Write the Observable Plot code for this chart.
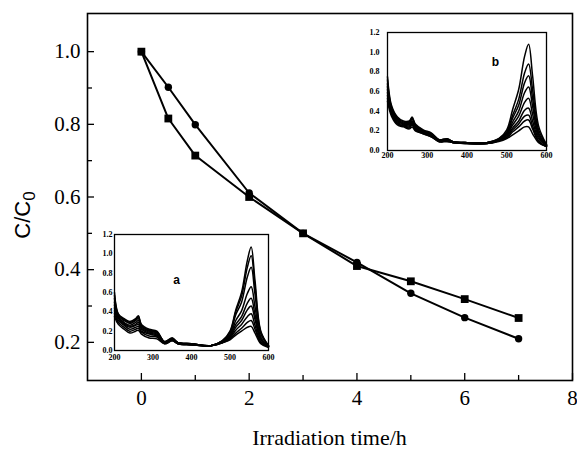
<!DOCTYPE html>
<html><head><meta charset="utf-8">
<script src="https://cdn.jsdelivr.net/npm/d3@7"></script>
<script src="https://cdn.jsdelivr.net/npm/@observablehq/plot@0.6"></script>
<style>
html,body{margin:0;padding:0;background:#fff;}
#wrap{position:relative;width:577px;height:449px;overflow:hidden;background:#fff;}
#wrap svg{position:absolute;}
</style></head><body><div id="wrap"></div>
<script>
// ---- main chart data ----
const time = [0, 0.5, 1, 2, 3, 4, 5, 6, 7];
const squareSeries = [1.0, 0.816, 0.714, 0.600, 0.500, 0.410, 0.368, 0.319, 0.267];
const circleSeries = [1.0, 0.902, 0.799, 0.611, 0.500, 0.420, 0.335, 0.268, 0.210];
const xTicks = [0, 2, 4, 6, 8];
const xMinorTicks = [1, 3, 5, 7];
const yTicks = [0.2, 0.4, 0.6, 0.8, 1.0];
const yMinorTicks = [0.3, 0.5, 0.7, 0.9];
const xLabel = "Irradiation time/h";
const yLabelMain = "C/C";
const yLabelSub = "0";

// ---- inset spectra data ----
const wavelength = [200, 210, 225, 240, 255, 262, 270, 290, 310, 330, 350, 365, 400, 450, 480, 500, 515, 530, 545, 555, 565, 580, 600];
const insetXTicks = [200, 300, 400, 500, 600];
const insetYTicks = [0, 0.2, 0.4, 0.6, 0.8, 1.0, 1.2];
const spectraA = [
  [0.60,0.38,0.33,0.30,0.33,0.36,0.27,0.22,0.20,0.09,0.13,0.08,0.07,0.05,0.10,0.20,0.42,0.60,0.93,1.07,0.72,0.20,0.05],
  [0.57,0.37,0.32,0.29,0.32,0.35,0.26,0.21,0.19,0.09,0.13,0.08,0.07,0.05,0.10,0.19,0.40,0.56,0.86,0.98,0.66,0.19,0.05],
  [0.54,0.36,0.31,0.28,0.31,0.33,0.25,0.21,0.19,0.09,0.12,0.08,0.07,0.05,0.10,0.18,0.37,0.50,0.76,0.86,0.58,0.17,0.05],
  [0.50,0.35,0.29,0.26,0.29,0.31,0.24,0.20,0.18,0.09,0.12,0.08,0.07,0.05,0.09,0.16,0.31,0.41,0.59,0.66,0.45,0.14,0.04],
  [0.47,0.34,0.28,0.25,0.27,0.29,0.23,0.19,0.17,0.08,0.12,0.08,0.06,0.05,0.09,0.15,0.27,0.35,0.49,0.54,0.37,0.12,0.04],
  [0.44,0.33,0.27,0.24,0.26,0.27,0.22,0.18,0.16,0.08,0.11,0.07,0.06,0.05,0.09,0.14,0.24,0.31,0.42,0.46,0.32,0.11,0.04],
  [0.41,0.31,0.26,0.22,0.24,0.25,0.20,0.17,0.15,0.08,0.11,0.07,0.06,0.05,0.08,0.13,0.21,0.27,0.35,0.38,0.26,0.09,0.04],
  [0.38,0.29,0.24,0.20,0.22,0.23,0.19,0.15,0.14,0.07,0.10,0.07,0.06,0.05,0.08,0.12,0.18,0.23,0.29,0.31,0.22,0.08,0.04],
  [0.35,0.27,0.22,0.18,0.20,0.21,0.17,0.13,0.12,0.07,0.10,0.07,0.06,0.05,0.08,0.11,0.16,0.20,0.24,0.25,0.18,0.07,0.03]
];
const spectraB = [
  [0.75,0.46,0.34,0.30,0.30,0.34,0.27,0.21,0.18,0.11,0.12,0.09,0.08,0.08,0.12,0.21,0.42,0.62,0.96,1.08,0.76,0.25,0.06],
  [0.72,0.44,0.33,0.29,0.29,0.33,0.26,0.20,0.17,0.11,0.12,0.09,0.08,0.08,0.12,0.19,0.36,0.52,0.79,0.88,0.62,0.21,0.06],
  [0.68,0.42,0.32,0.28,0.28,0.32,0.25,0.20,0.17,0.10,0.11,0.09,0.08,0.08,0.11,0.18,0.33,0.46,0.69,0.76,0.53,0.18,0.05],
  [0.65,0.41,0.31,0.27,0.27,0.30,0.24,0.19,0.16,0.10,0.11,0.09,0.08,0.08,0.11,0.17,0.29,0.40,0.59,0.645,0.45,0.16,0.05],
  [0.62,0.40,0.30,0.27,0.26,0.29,0.23,0.19,0.16,0.10,0.11,0.08,0.08,0.08,0.11,0.16,0.26,0.35,0.49,0.53,0.37,0.14,0.05],
  [0.59,0.39,0.29,0.26,0.25,0.28,0.22,0.18,0.15,0.10,0.10,0.08,0.08,0.07,0.10,0.15,0.23,0.30,0.41,0.43,0.30,0.12,0.05],
  [0.56,0.38,0.28,0.25,0.24,0.27,0.21,0.18,0.15,0.09,0.10,0.08,0.07,0.07,0.10,0.14,0.21,0.27,0.35,0.36,0.25,0.10,0.04],
  [0.53,0.37,0.27,0.25,0.23,0.26,0.21,0.17,0.14,0.09,0.10,0.08,0.07,0.07,0.10,0.13,0.19,0.24,0.30,0.31,0.22,0.09,0.04],
  [0.50,0.35,0.26,0.24,0.22,0.24,0.20,0.17,0.14,0.09,0.09,0.08,0.07,0.07,0.09,0.12,0.16,0.20,0.24,0.24,0.17,0.08,0.04]
];

const serif = "'Liberation Serif','Times New Roman',Times,serif";
const sans = "'Liberation Sans',Arial,Helvetica,sans-serif";
const wrap = document.getElementById("wrap");

// ---- main plot ----
const squares = time.map((t, i) => ({t, v: squareSeries[i]}));
const circles = time.map((t, i) => ({t, v: circleSeries[i]}));
const W = 577, H = 449, mL = 87, mR = 5, mT = 13, mB = 69;
const frameW = W - mL - mR, frameH = H - mT - mB;

const main = Plot.plot({
  width: W, height: H,
  marginLeft: mL, marginRight: mR, marginTop: mT, marginBottom: mB,
  x: {domain: [-1, 8]},
  y: {domain: [0.095, 1.105]},
  style: {fontFamily: serif, background: "transparent", color: "black", overflow: "visible"},
  marks: [
    Plot.frame({stroke: "black", strokeWidth: 1.6}),
    Plot.tickX(xTicks, {x: d => d, insetTop: frameH - 7, stroke: "black", strokeWidth: 1.3}),
    Plot.tickX(xMinorTicks, {x: d => d, insetTop: frameH - 5, stroke: "black", strokeWidth: 1.3}),
    Plot.tickY(yTicks, {y: d => d, insetRight: frameW - 7, stroke: "black", strokeWidth: 1.3}),
    Plot.tickY(yMinorTicks, {y: d => d, insetRight: frameW - 5, stroke: "black", strokeWidth: 1.3}),
    Plot.axisX({ticks: xTicks, tickSize: 0, tickPadding: 10, fontSize: 21, label: null, tickFormat: d => String(d)}),
    Plot.axisY({ticks: yTicks, tickSize: 0, tickPadding: 7, fontSize: 21, label: null, tickFormat: d3.format(".1f")}),
    Plot.line(squares, {x: "t", y: "v", stroke: "black", strokeWidth: 2}),
    Plot.line(circles, {x: "t", y: "v", stroke: "black", strokeWidth: 2}),
    Plot.dot(squares, {x: "t", y: "v", symbol: "square", r: 4.4, fill: "black", stroke: "none"}),
    Plot.dot(circles, {x: "t", y: "v", symbol: "circle", r: 3.7, fill: "black", stroke: "none"})
  ]
});
main.style.left = "0px"; main.style.top = "0px";
wrap.appendChild(main);

const msvg = d3.select(main);
msvg.append("text")
  .attr("x", mL + frameW / 2).attr("y", 445)
  .attr("text-anchor", "middle")
  .style("font-family", serif).style("font-size", "22px").attr("fill", "black")
  .text(xLabel);
const yl = msvg.append("text")
  .attr("transform", "translate(30,215) rotate(-90)")
  .attr("text-anchor", "middle")
  .style("font-family", sans).style("font-size", "22px").attr("fill", "black");
yl.append("tspan").text(yLabelMain);
yl.append("tspan").attr("dy", "5").style("font-size", "17px").text(yLabelSub);

// ---- insets ----
function inset(spectra, letter, frame, letterOffset, labelGap, xPad) {
  const rows = [];
  spectra.forEach((s, k) => s.forEach((a, i) => rows.push({w: wavelength[i], a, k})));
  const ml = 20, mr = 9, mt = 5, mb = 15;
  const p = Plot.plot({
    width: frame.w + ml + mr, height: frame.h + mt + mb,
    marginLeft: ml, marginRight: mr, marginTop: mt, marginBottom: mb,
    x: {domain: [200, 600]},
    y: {domain: [0, 1.2]},
    style: {fontFamily: serif, background: "white", color: "black", overflow: "visible", opacity: 0.999},
    marks: [
      Plot.line(rows, {x: "w", y: "a", z: "k", curve: "catmull-rom", stroke: "black", strokeWidth: 1.5}),
      Plot.frame({stroke: "black", strokeWidth: 1.3}),
      Plot.axisX({ticks: insetXTicks, tickSize: 0, tickPadding: xPad, fontSize: 8, fontWeight: "bold", label: null}),
      Plot.axisY({ticks: insetYTicks, tickSize: 0, tickPadding: labelGap, fontSize: 8, fontWeight: "bold", label: null, tickFormat: d3.format(".1f")}),
      Plot.text([letter], {text: d => d, frameAnchor: "top-left", dx: letterOffset[0], dy: letterOffset[1],
        fontSize: 12, fontWeight: "bold", fontFamily: sans, textAnchor: "middle", lineAnchor: "middle", fill: "black"})
    ]
  });
  p.style.left = (frame.x - ml) + "px";
  p.style.top = (frame.y - mt) + "px";
  wrap.appendChild(p);
}
inset(spectraA, "a", {x: 114, y: 234, w: 154, h: 116}, [62, 46], 2, 4);
inset(spectraB, "b", {x: 387, y: 32, w: 159, h: 118}, [108, 30], 8, 2);
</script></body></html>
